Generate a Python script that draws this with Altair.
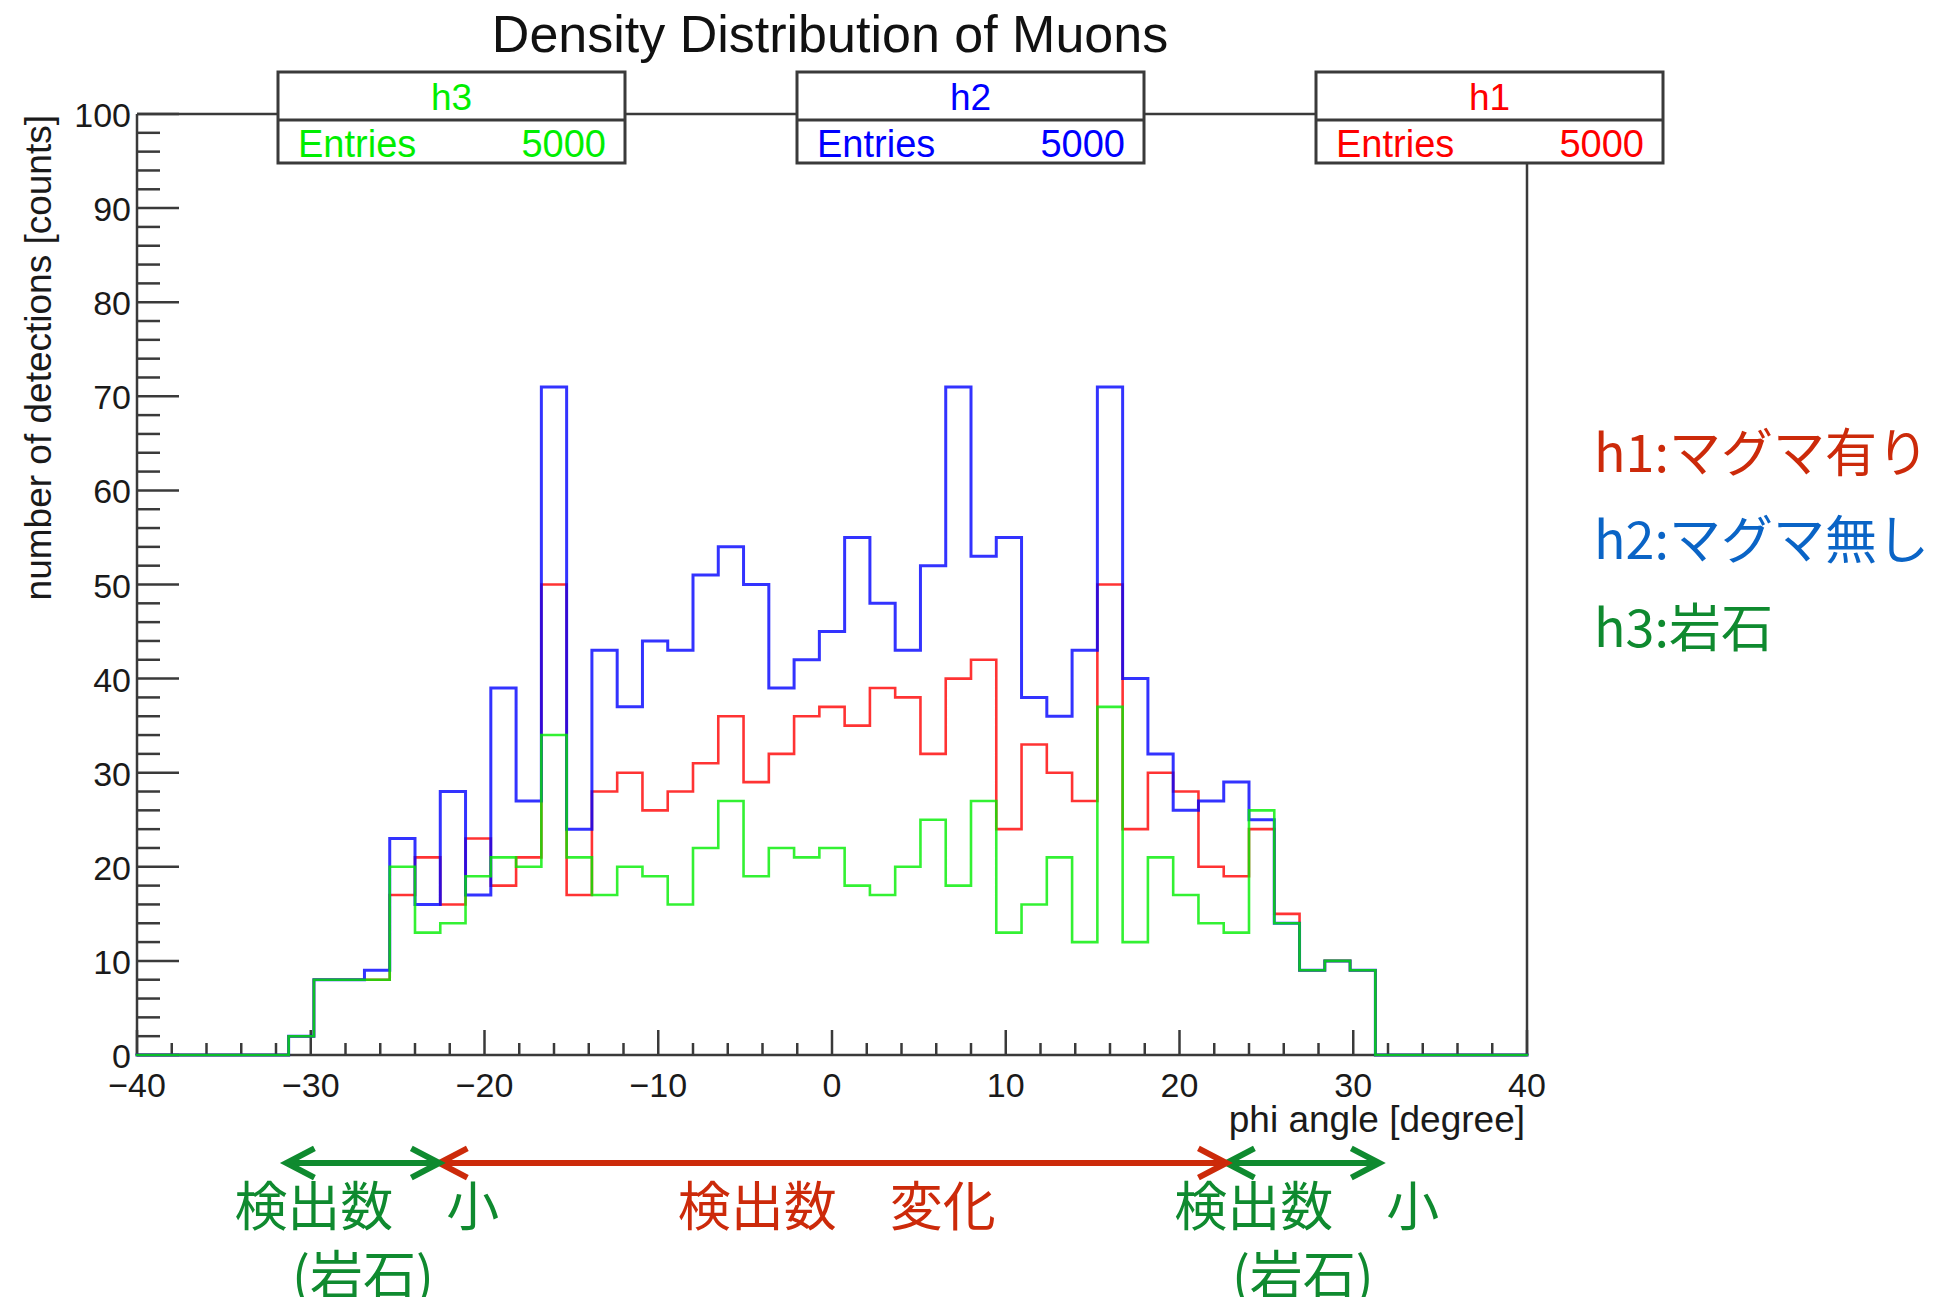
import altair as alt
import pandas as pd

# ---------------------------------------------------------------
# Histogram contents: 55 equal bins over phi = [-40, 40] degrees
# ---------------------------------------------------------------
X_MIN, X_MAX, N_BINS = -40.0, 40.0, 55

h1_counts = [0, 0, 0, 0, 0, 0,
             2, 8, 8, 8,
             17, 21, 16, 23, 18, 21, 50, 17, 28, 30,
             26, 28, 31, 36, 29, 32, 36, 37, 35, 39,
             38, 32, 40, 42, 24, 33, 30, 27, 50, 24,
             30, 28, 20, 19, 24, 15, 9, 10, 9,
             0, 0, 0, 0, 0, 0]

h2_counts = [0, 0, 0, 0, 0, 0,
             2, 8, 8, 9,
             23, 16, 28, 17, 39, 27, 71, 24, 43, 37,
             44, 43, 51, 54, 50, 39, 42, 45, 55, 48,
             43, 52, 71, 53, 55, 38, 36, 43, 71, 40,
             32, 26, 27, 29, 25, 14, 9, 10, 9,
             0, 0, 0, 0, 0, 0]

h3_counts = [0, 0, 0, 0, 0, 0,
             2, 8, 8, 8,
             20, 13, 14, 19, 21, 20, 34, 21, 17, 20,
             19, 16, 22, 27, 19, 22, 21, 22, 18, 17,
             20, 25, 18, 27, 13, 16, 21, 12, 37, 12,
             21, 17, 14, 13, 26, 14, 9, 10, 9,
             0, 0, 0, 0, 0, 0]

hist_names = ["h1", "h2", "h3"]
hist_entries = [5000, 5000, 5000]
hist_colors = ["#ff0000", "#0000ff", "#00ee00"]

legend_labels = ["h1:マグマ有り", "h2:マグマ無し", "h3:岩石"]

# regions along phi marked below the axis
zone_edges = [-31.4, -22.6, 22.7, 31.5]
zone_labels = ["検出数\u3000小", "検出数\u3000変化", "検出数\u3000小"]
zone_sublabels = ["(岩石)", "", "(岩石)"]

TITLE = "Density Distribution of Muons"
X_TITLE = "phi angle [degree]"
Y_TITLE = "number of detections [counts]"

# ---------------------------------------------------------------
# Styling
# ---------------------------------------------------------------
W, H = 1390, 941
AXIS_COLOR = "#3a3a3a"
ROOT_FONT = "Liberation Sans"
JP_FONT = "Noto Sans CJK JP"
JP_RED = "#cc2a0a"
JP_BLUE = "#0a64c6"
JP_GREEN = "#0f8a2f"

xs = alt.Scale(domain=[X_MIN, X_MAX], nice=False, zero=False)
ys = alt.Scale(domain=[0, 100], nice=False, zero=False)


def X(field):
    return alt.X(field, type="quantitative", scale=xs, axis=None)


def Y(field):
    return alt.Y(field, type="quantitative", scale=ys, axis=None)


one = pd.DataFrame({"k": [0]})
bin_width = (X_MAX - X_MIN) / N_BINS
edges = [X_MIN + k * bin_width for k in range(N_BINS + 1)]


def step_frame(values):
    return pd.DataFrame({"phi": edges, "count": list(values) + [values[-1]]})


def txt(text, x, y, size, color="#111111", align="left", font=ROOT_FONT, angle=0):
    props = dict(text=text, fontSize=size, color=color, align=align,
                 baseline="alphabetic", font=font)
    if angle:
        props["angle"] = angle
    return alt.Chart(one).mark_text(**props).encode(x=alt.value(x), y=alt.value(y))


layers = []

# frame
frame = alt.Chart(one).mark_rule(color=AXIS_COLOR, strokeWidth=2.5)
layers += [
    frame.encode(x=alt.value(0), x2=alt.value(W), y=alt.value(0)),
    frame.encode(x=alt.value(W), y=alt.value(0), y2=alt.value(H)),
    frame.encode(x=alt.value(0), y=alt.value(0), y2=alt.value(H)),
    frame.encode(x=alt.value(0), x2=alt.value(W), y=alt.value(H)),
]

# inward ticks
y_major = list(range(0, 101, 10))
y_minor = [v for v in range(0, 101, 2) if v % 10]
x_major = list(range(-40, 41, 10))
x_minor = [v for v in range(-40, 41, 2) if v % 10]

tick = dict(color=AXIS_COLOR, strokeWidth=2.5)
layers += [
    alt.Chart(pd.DataFrame({"v": y_major})).mark_rule(**tick).encode(
        y=Y("v"), x=alt.value(0), x2=alt.value(42)),
    alt.Chart(pd.DataFrame({"v": y_minor})).mark_rule(**tick).encode(
        y=Y("v"), x=alt.value(0), x2=alt.value(23)),
    alt.Chart(pd.DataFrame({"v": x_major})).mark_rule(**tick).encode(
        x=X("v"), y=alt.value(H), y2=alt.value(H - 25)),
    alt.Chart(pd.DataFrame({"v": x_minor})).mark_rule(**tick).encode(
        x=X("v"), y=alt.value(H), y2=alt.value(H - 12)),
]

# histograms (h1 first, h3 on top)
for counts, color, width in [(h1_counts, hist_colors[0], 2.6),
                             (h2_counts, hist_colors[1], 3.0),
                             (h3_counts, hist_colors[2], 2.6)]:
    layers.append(
        alt.Chart(step_frame(counts)).mark_line(
            interpolate="step-after", color=color, strokeWidth=width,
            strokeJoin="miter", strokeCap="square", opacity=0.8
        ).encode(x=X("phi"), y=Y("count"))
    )

# tick labels
def minus(v):
    return str(v).replace("-", "\u2212")


ylab = pd.DataFrame({"v": y_major, "t": [minus(v) for v in y_major]})
xlab = pd.DataFrame({"v": x_major, "t": [minus(v) for v in x_major]})
layers += [
    alt.Chart(ylab).mark_text(align="right", baseline="alphabetic", dy=13,
                              fontSize=34, font=ROOT_FONT, color="#1a1a1a").encode(
        y=Y("v"), x=alt.value(-6), text="t:N"),
    alt.Chart(xlab).mark_text(align="center", baseline="alphabetic",
                              fontSize=34, font=ROOT_FONT, color="#1a1a1a").encode(
        x=X("v"), y=alt.value(983), text="t:N"),
]

# titles
layers += [
    txt(TITLE, W / 2 - 2, -62, 52, align="center"),
    txt(X_TITLE, W - 2, 1018, 37, color="#1a1a1a", align="right"),
    txt(Y_TITLE, -86, 1, 37, color="#1a1a1a", align="right", angle=270),
]

# statistics boxes: h3, h2, h1 from left to right
BOX_W = 347
box_left = {"h3": 141, "h2": 660, "h1": 1179}
for name, entries, color in zip(hist_names, hist_entries, hist_colors):
    left = box_left[name]
    layers += [
        alt.Chart(one).mark_rect(fill="white", stroke=AXIS_COLOR, strokeWidth=3).encode(
            x=alt.value(left), x2=alt.value(left + BOX_W),
            y=alt.value(-42), y2=alt.value(49)),
        alt.Chart(one).mark_rule(color=AXIS_COLOR, strokeWidth=3).encode(
            x=alt.value(left), x2=alt.value(left + BOX_W), y=alt.value(6)),
        txt(name, left + BOX_W / 2, -4, 37, color=color, align="center"),
        txt("Entries", left + 20, 43, 38, color=color),
        txt(str(entries), left + BOX_W - 19, 43, 38, color=color, align="right"),
    ]

# legend on the right
for label, color, y in zip(legend_labels, [JP_RED, JP_BLUE, JP_GREEN], [358, 445, 533]):
    layers.append(txt(label, 1457, y, 52, color=color, font=JP_FONT))

# arrows and notes below the axis
zone_colors = [JP_GREEN, JP_RED, JP_GREEN]
zones = pd.DataFrame({
    "x0": zone_edges[:-1],
    "x1": zone_edges[1:],
    "mid": [(a + b) / 2 for a, b in zip(zone_edges[:-1], zone_edges[1:])],
    "label": zone_labels,
    "sub": zone_sublabels,
    "color": zone_colors,
})
ARROW_Y = 1049
layers += [
    alt.Chart(zones).mark_rule(strokeWidth=6).encode(
        x=X("x0"), x2="x1", y=alt.value(ARROW_Y),
        color=alt.Color("color:N", scale=None)),
    alt.Chart(zones).mark_point(shape="M1,-0.52L0,0L1,0.52", size=3136, filled=False,
                                strokeWidth=6, opacity=1, strokeCap="butt").encode(
        x=X("x0"), y=alt.value(ARROW_Y), stroke=alt.Color("color:N", scale=None)),
    alt.Chart(zones).mark_point(shape="M-1,-0.52L0,0L-1,0.52", size=3136, filled=False,
                                strokeWidth=6, opacity=1, strokeCap="butt").encode(
        x=X("x1"), y=alt.value(ARROW_Y), stroke=alt.Color("color:N", scale=None)),
    alt.Chart(zones).mark_text(align="center", baseline="alphabetic", fontSize=53,
                               font=JP_FONT, dx=4).encode(
        x=X("mid"), y=alt.value(1112), text="label:N",
        color=alt.Color("color:N", scale=None)),
    alt.Chart(zones).mark_text(align="center", baseline="alphabetic", fontSize=53,
                               font=JP_FONT).encode(
        x=X("mid"), y=alt.value(1181), text="sub:N",
        color=alt.Color("color:N", scale=None)),
]

chart = alt.layer(*layers).properties(
    width=W,
    height=H,
    padding={"left": 137, "top": 114, "right": 427, "bottom": 242},
    autosize=alt.AutoSizeParams(type="none"),
    background="white",
).configure_view(stroke=None)

chart.save("out.html", embed_options={"renderer": "svg", "actions": False})
